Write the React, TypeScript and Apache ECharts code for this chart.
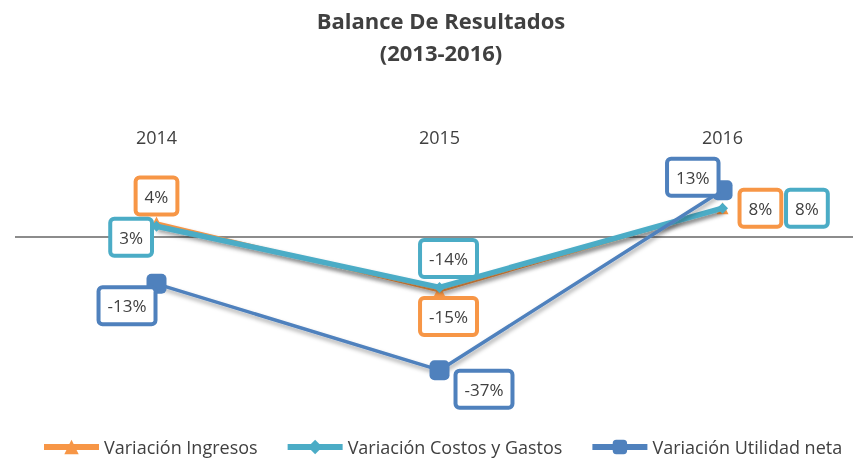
import React, { useEffect, useRef } from "react";
import * as echarts from "echarts";

const categories = ["2014", "2015", "2016"];
const ingresos = [4, -15, 8];
const costos = [3, -14, 8];
const utilidad = [-13, -37, 13];
const seriesNames = ["Variación Ingresos", "Variación Costos y Gastos", "Variación Utilidad neta"];

const FONT = "'Open Sans', sans-serif";
const TXT = "#404040";

function boxLabel(color: string, extra: any) {
  return {
    show: true,
    formatter: (p: any) => `${p.value[1]}%`,
    color: TXT,
    fontSize: 17,
    fontFamily: FONT,
    lineHeight: 19,
    backgroundColor: "#fff",
    borderColor: color,
    borderWidth: 4,
    borderRadius: 2,
    padding: [7, 7],
    ...extra,
  };
}

function pts(values: number[], labels: any[]) {
  return values.map((v, i) => ({ value: [i, v], label: labels[i] }));
}

export default function App() {
  const ref = useRef<HTMLDivElement>(null);
  useEffect(() => {
    const chart = echarts.init(ref.current!, null, { renderer: "svg" });
    const orange = "#F79646";
    const teal = "#4BACC6";
    const blue = "#4F81BD";
    const shadow = { shadowBlur: 4, shadowColor: "rgba(0,0,0,0.35)", shadowOffsetY: 3, shadowOffsetX: 1 };
    chart.setOption({
      animation: false,
      graphic: [
        {
          type: "text",
          x: 441,
          y: 4,
          style: {
            text: "Balance De Resultados\n(2013-2016)",
            textAlign: "center",
            fontSize: 22,
            fontWeight: "bold",
            fontFamily: FONT,
            lineHeight: 32,
            fill: TXT,
          },
        },
      ],
      legend: {
        left: 41,
        top: 438,
        padding: 0,
        itemGap: 27,
        itemWidth: 55,
        itemHeight: 18,
        lineStyle: { width: 6 },
        textStyle: { fontSize: 18, fontFamily: FONT, color: TXT, lineHeight: 18 },
        data: seriesNames,
      },
      grid: { left: 15, right: 0, top: 165, height: 216, containLabel: false },
      xAxis: {
        type: "value",
        min: -0.5,
        max: 2.461,
        position: "top",
        splitLine: { show: false },
        axisLine: { show: false, onZero: false },
        axisTick: { show: false },
        axisLabel: {
          customValues: categories.map((_, i) => i),
          formatter: (v: number) => categories[Math.round(v)] ?? "",
          margin: 19,
          fontSize: 18,
          fontFamily: FONT,
          color: TXT,
        },
      },
      yAxis: { type: "value", min: -40, max: 20, show: false, splitLine: { show: false } },
      series: [
        {
          name: seriesNames[0],
          type: "line",
          z: 3,
          data: pts(ingresos, [
            boxLabel(orange, { position: "top", distance: 4 }),
            boxLabel(orange, { position: "bottom", distance: 3, offset: [9, 0] }),
            boxLabel(orange, { position: "right", distance: 13 }),
          ]),
          symbol: "triangle",
          symbolSize: 12,
          itemStyle: { color: orange },
          lineStyle: { color: orange, width: 3, ...shadow },
          markLine: {
            silent: true,
            symbol: "none",
            label: { show: false },
            lineStyle: { color: "#8c8c8c", width: 2, type: "solid", shadowBlur: 0, shadowOffsetX: 0, shadowOffsetY: 0 },
            data: [{ yAxis: 0 }],
            z: 1,
          },
        },
        {
          name: seriesNames[1],
          type: "line",
          z: 4,
          data: pts(costos, [
            boxLabel(teal, { position: "left", distance: 1, offset: [0, 11] }),
            boxLabel(teal, { position: "top", distance: 7, offset: [9, 0] }),
            boxLabel(teal, { position: "right", distance: 60 }),
          ]),
          symbol: "diamond",
          symbolSize: 11,
          itemStyle: { color: teal },
          lineStyle: { color: teal, width: 5.5, ...shadow },
        },
        {
          name: seriesNames[2],
          type: "line",
          z: 5,
          data: pts(utilidad, [
            boxLabel(blue, { position: "left", distance: -7, offset: [0, 22] }),
            boxLabel(blue, { position: "right", distance: 8, offset: [0, 19] }),
            boxLabel(blue, { position: "left", distance: -4, offset: [0, -13] }),
          ]),
          symbol: "roundRect",
          symbolSize: 20,
          itemStyle: { color: blue },
          lineStyle: { color: blue, width: 3.5, ...shadow },
        },
      ],
    });
    return () => chart.dispose();
  }, []);
  return <div ref={ref} style={{ width: 853, height: 458, position: "fixed", left: 0, top: 0 }} />;
}
